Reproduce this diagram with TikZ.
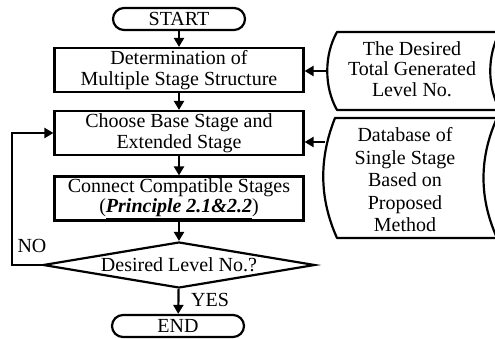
\documentclass[tikz,border=0pt]{standalone}
\usepackage{fontspec}
\setmainfont{Liberation Serif}
\usetikzlibrary{shapes.geometric,arrows.meta}
\begin{document}
\begin{tikzpicture}[x=1pt,y=-1pt,
  every node/.style={font=\fontsize{20}{20.5}\selectfont},
  line/.style={line width=2.2pt},
  flow/.style={line, -{Triangle[length=9pt,width=10pt]}},
  procbox/.style={draw, line width=2.2pt, minimum width=249pt, minimum height=44pt,
    inner sep=0pt, align=center},
  termbox/.style={draw, line width=2.2pt, rounded corners=11pt, minimum width=132pt,
    minimum height=22pt, inner sep=0pt},
  decbox/.style={draw, line width=2.2pt, diamond, aspect=5.9, minimum width=272pt,
    minimum height=46pt, inner sep=0pt},
  storedata/.style={draw, line width=2.2pt, line join=round},
  lbl/.style={inner sep=0pt, align=center}
]
\useasboundingbox (0,0) rectangle (495,339);

% main flow
\node[termbox] (start) at (179,19) {START};
\node[procbox] (det) at (179,70) {Determination of\\Multiple Stage Structure};
\node[procbox] (choose) at (179,133) {Choose Base Stage and\\Extended Stage};
\node[procbox] (conn) at (179,198.5) {Connect Compatible Stages\\(\underline{\textbf{\textit{Principle 2.1\&2.2}}})};
\node[decbox] (dec) at (179,265) {Desired Level No.?};
\node[termbox] (end) at (178,326) {END};

\draw[flow] (start) -- (det);
\draw[flow] (det) -- (choose);
\draw[flow] (choose) -- (conn);
\draw[flow] (conn) -- (dec);
\draw[flow] (dec) -- (end);

% NO loop back to the stage choice
\coordinate (loop) at (12,265);
\draw[flow] (dec.west) -- (loop) |- (choose.west);
\node[lbl] (no) at (32,246) {NO};
\node[lbl] (yes) at (210,300) {YES};

% stored-data inputs on the right
\begin{scope}
\clip (0,0) rectangle (495,339);
\draw[storedata] (520,32) -- (337,32) .. controls (324,55) and (324,87) .. (337,110) -- (520,110);
\draw[storedata] (500,32) .. controls (487,55) and (487,87) .. (500,110);
\draw[storedata] (520,118) -- (335,118) .. controls (319,158) and (319,198) .. (337,238) -- (520,238);
\draw[storedata] (497,118) .. controls (479,158) and (479,198) .. (497,238);
\end{scope}
\node[lbl] (desired) at (412,69) {The Desired\\Total Generated\\Level No.};
\node[lbl, font=\fontsize{20}{22.5}\selectfont] (db) at (405,180) {Database of\\Single Stage\\Based on\\Proposed\\Method};

\coordinate (d1) at (327.5,71);
\coordinate (d2) at (325,142);
\draw[flow] (d1) -- (det.east |- d1);
\draw[flow] (d2) -- (choose.east |- d2);
\end{tikzpicture}
\end{document}
